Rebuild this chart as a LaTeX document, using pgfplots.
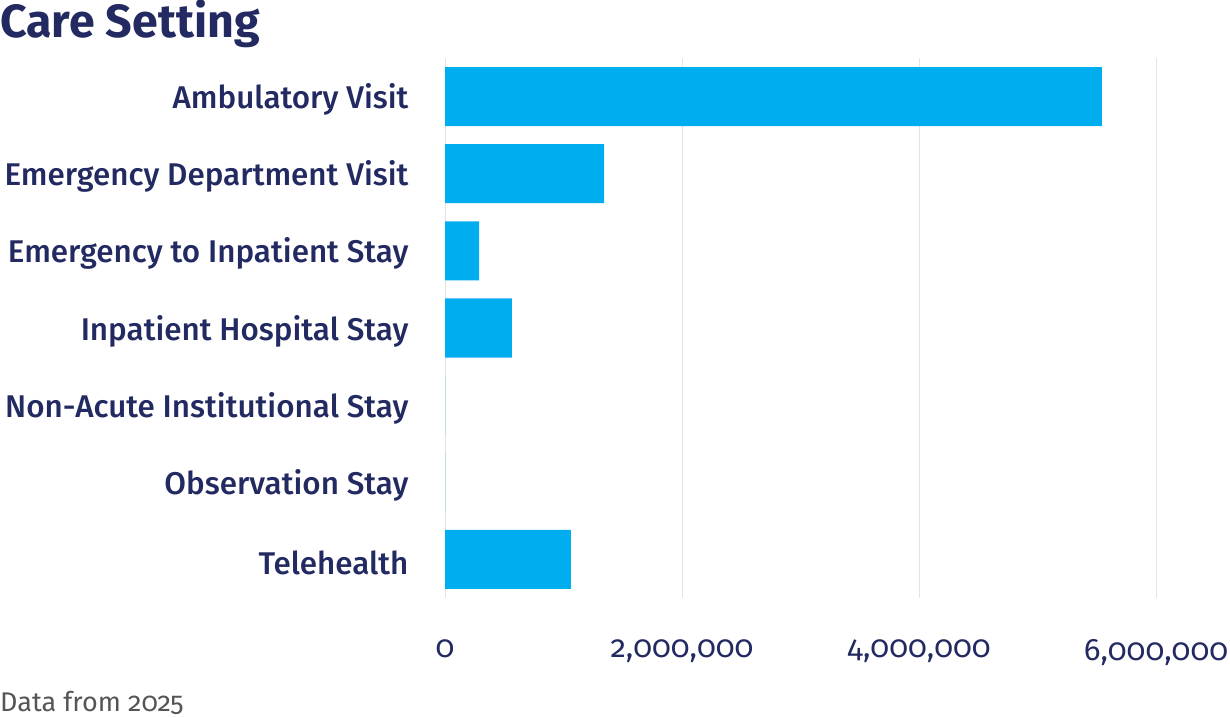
\documentclass[border=0pt]{standalone}
\usepackage{fontspec}
\setmainfont{Fira Sans}[Numbers=OldStyle]
\newfontfamily\labelfont{Fira Sans Medium}[Numbers=OldStyle]
\newfontfamily\titlefont{Fira Sans Bold}[Numbers=OldStyle]
\newfontfamily\regfont{Fira Sans}[Numbers=OldStyle]
\usepackage{pgfplots}
\pgfplotsset{compat=1.18}
\definecolor{barcol}{HTML}{00AEEF}
\definecolor{navy}{HTML}{232A61}
\definecolor{gridcol}{HTML}{E3E3E3}
\definecolor{footcol}{HTML}{555555}
\begin{document}
\begin{tikzpicture}[x=1bp,y=1bp]
\path[use as bounding box] (0,0) rectangle (1230,718);
\node[anchor=base west,inner sep=0pt,text=navy] at (0,680) {\titlefont\fontsize{46.5bp}{52bp}\selectfont Care Setting};
\node[anchor=base west,inner sep=0pt,text=footcol] at (0,6) {\regfont\fontsize{27bp}{30bp}\selectfont Data from 2025};
\begin{axis}[
  at={(445bp,120bp)}, anchor=south west,
  scale only axis, width=711bp, height=540bp,
  xbar, bar width=59bp,
  xmin=0, xmax=6000000,
  ymin=-0.5, ymax=6.5, y dir=reverse,
  ytick={0,1,2,3,4,5,6},
  yticklabels={Ambulatory Visit,Emergency Department Visit,Emergency to Inpatient Stay,Inpatient Hospital Stay,Non-Acute Institutional Stay,Observation Stay,Telehealth},
  xtick={0,2000000,4000000,6000000},
  scaled x ticks=false,
  xticklabel style={font=\regfont\fontsize{31bp}{36bp}\selectfont, text=navy, yshift=-38bp},
  xticklabel style={/pgf/number format/.cd,fixed,1000 sep={,},assume math mode=true},
  yticklabel style={font=\labelfont\fontsize{31.4bp}{36bp}\selectfont, text=navy, xshift=-33bp, yshift=-3bp},
  major tick length=0pt,
  axis line style={draw=none},
  xmajorgrids, grid style={gridcol, line width=1bp},
]
\addplot[fill=barcol, draw=none] coordinates {
(5544000,0) (1342000,1) (287000,2) (565000,3) (0,4) (0,5) (1063000,6)
};
\end{axis}
\end{tikzpicture}
\end{document}
